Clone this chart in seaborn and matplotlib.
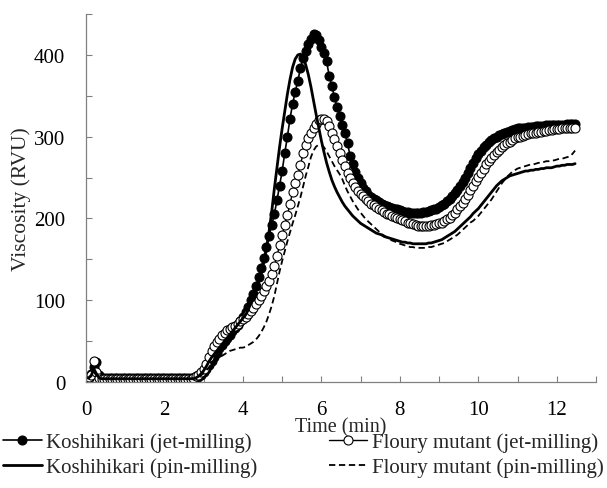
import numpy as np
import pandas as pd
import matplotlib
matplotlib.use('Agg')
import matplotlib.pyplot as plt
from matplotlib.ticker import MultipleLocator
import seaborn as sns

# RVA readings, one every 4 s (0 to 12.47 min)
time_min = np.arange(188) * 4 / 60

koshi_jet = [
    6, 5, 10, 18, 25, 8, 5, 5, 5, 5, 5, 5, 5, 5, 5,
    5, 5, 5, 5, 5, 5, 5, 5, 5, 5, 5, 5, 5, 5, 5,
    5, 5, 5, 5, 5, 5, 5, 5, 5, 5, 5, 5, 5, 6, 8,
    12, 16, 21, 26, 31, 36, 41, 45, 50, 54, 58, 62, 66, 70, 75,
    80, 86, 92, 100, 108, 118, 128, 140, 152, 165, 178, 192, 205, 222, 240,
    258, 280, 300, 322, 340, 355, 368, 384, 396, 405, 413, 420, 425, 424, 418,
    410, 402, 392, 374, 362, 348, 336, 325, 314, 305, 292, 276, 266, 257, 249,
    243, 237, 233, 229, 226, 224, 222, 220, 218, 216, 215, 214, 213, 212, 211,
    210, 209, 208, 208, 207, 207, 207, 207, 207, 208, 208, 209, 210, 211, 212,
    214, 216, 218, 221, 224, 227, 231, 235, 240, 245, 250, 256, 262, 268, 274,
    279, 283, 287, 290, 293, 296, 298, 300, 302, 303, 305, 306, 307, 308, 309,
    310, 310, 311, 311, 312, 312, 312, 313, 313, 313, 313, 314, 314, 314, 314,
    314, 314, 314, 314, 315, 315, 315, 315,
]

floury_jet = [
    5, 6, 9, 26, 12, 5, 4, 4, 4, 4, 4, 4, 4, 4, 4,
    4, 4, 4, 4, 4, 4, 4, 4, 4, 4, 4, 4, 4, 4, 4,
    4, 4, 4, 4, 4, 4, 4, 4, 4, 4, 4, 5, 7, 9, 12,
    16, 22, 30, 38, 44, 49, 53, 57, 60, 63, 65, 67, 69, 71, 74,
    77, 80, 83, 87, 91, 95, 100, 105, 111, 117, 124, 132, 142, 154, 167,
    180, 192, 204, 218, 232, 243, 253, 265, 280, 290, 298, 305, 311, 316, 320,
    322, 322, 319, 313, 305, 297, 289, 280, 272, 264, 256, 249, 243, 238, 234,
    230, 227, 224, 221, 218, 216, 214, 212, 210, 208, 206, 205, 203, 202, 201,
    199, 198, 197, 195, 194, 193, 192, 191, 191, 191, 191, 191, 192, 192, 193,
    194, 195, 197, 199, 201, 204, 207, 211, 215, 219, 224, 229, 235, 240, 246,
    251, 256, 261, 266, 270, 274, 278, 281, 284, 287, 290, 292, 294, 296, 298,
    299, 300, 301, 302, 303, 304, 305, 305, 306, 306, 307, 307, 308, 308, 309,
    309, 309, 310, 310, 310, 311, 311, 311,
]

koshi_pin = [
    5, 5, 8, 16, 10, 5, 4, 4, 4, 4, 4, 4, 4, 4, 4,
    4, 4, 4, 4, 4, 4, 4, 4, 4, 4, 4, 4, 4, 4, 4,
    4, 4, 4, 4, 4, 4, 4, 4, 4, 4, 4, 4, 5, 7, 10,
    14, 19, 25, 30, 34, 38, 42, 46, 50, 54, 58, 62, 66, 70, 74,
    78, 82, 88, 96, 104, 112, 122, 133, 147, 163, 184, 208, 236, 262, 287,
    310, 331, 352, 370, 385, 395, 400, 401, 397, 388, 376, 361, 344, 327, 311,
    295, 281, 268, 257, 247, 239, 232, 226, 220, 215, 211, 207, 203, 200, 197,
    194, 192, 190, 188, 186, 184, 182, 181, 180, 178, 177, 176, 175, 174, 173,
    172, 171, 171, 170, 170, 169, 169, 169, 169, 169, 169, 170, 170, 171, 172,
    173, 174, 176, 178, 180, 182, 184, 187, 190, 193, 196, 199, 202, 206, 209,
    212, 216, 220, 224, 228, 232, 236, 240, 243, 246, 248, 250, 252, 253, 254,
    255, 256, 257, 258, 258, 259, 259, 260, 260, 261, 261, 262, 262, 262, 263,
    264, 264, 265, 265, 266, 266, 266, 267,
]

floury_pin = [
    5, 5, 7, 12, 8, 5, 4, 4, 4, 4, 4, 4, 4, 4, 4,
    4, 4, 4, 4, 4, 4, 4, 4, 4, 4, 4, 4, 4, 4, 4,
    4, 4, 4, 4, 4, 4, 4, 4, 4, 4, 4, 4, 5, 6, 8,
    11, 14, 18, 22, 25, 28, 30, 32, 34, 36, 38, 39, 40, 41, 42,
    42, 43, 45, 47, 49, 52, 56, 61, 67, 74, 83, 93, 105, 120, 135,
    148, 160, 172, 183, 194, 204, 215, 226, 239, 252, 263, 275, 283, 288, 290,
    290, 287, 282, 276, 270, 264, 259, 254, 248, 240, 233, 227, 221, 216, 211,
    207, 203, 199, 196, 193, 190, 187, 184, 181, 179, 177, 175, 173, 172, 170,
    169, 168, 167, 166, 165, 165, 164, 164, 164, 164, 164, 165, 165, 166, 167,
    168, 169, 170, 172, 174, 176, 178, 180, 183, 186, 189, 192, 195, 197, 200,
    203, 207, 211, 215, 219, 223, 228, 233, 238, 243, 247, 251, 254, 257, 259,
    261, 262, 263, 264, 265, 266, 266, 267, 268, 268, 269, 270, 270, 271, 271,
    272, 273, 273, 274, 275, 276, 279, 283,
]

labels = ['Koshihikari (jet-milling)', 'Floury mutant (jet-milling)',
          'Koshihikari (pin-milling)', 'Floury mutant (pin-milling)']

sns.set_theme(style='ticks')
plt.rcParams['font.family'] = ['Liberation Serif', 'DejaVu Serif']

fig = plt.figure(figsize=(6.07, 4.89), dpi=100)
ax = fig.add_axes([86 / 607, 1 - 383 / 489, 510 / 607, 368 / 489])

sns.lineplot(x=time_min, y=koshi_jet, ax=ax, color='black', lw=1.2,
             marker='o', markersize=6.5, markerfacecolor='black',
             markeredgecolor='black', label=labels[0])
sns.lineplot(x=time_min, y=floury_jet, ax=ax, color='black', lw=1.0,
             marker='o', markersize=6.5, markerfacecolor='white',
             markeredgecolor='black', markeredgewidth=0.8, label=labels[1])
sns.lineplot(x=time_min, y=koshi_pin, ax=ax, color='black', lw=2.0,
             label=labels[2])
sns.lineplot(x=time_min, y=floury_pin, ax=ax, color='black', lw=1.3,
             linestyle=(0, (3.5, 2)), label=labels[3])

ax.set_xlim(0, 13)
ax.set_ylim(0, 450)
ax.xaxis.set_major_locator(MultipleLocator(2))
ax.xaxis.set_minor_locator(MultipleLocator(1))
ax.yaxis.set_major_locator(MultipleLocator(100))
ax.yaxis.set_minor_locator(MultipleLocator(50))
ax.tick_params(which='both', direction='in', length=4, width=0.8,
               color='#808080', labelsize=15, labelcolor='black')
ax.tick_params(axis='x', pad=13)
ax.tick_params(axis='y', pad=15)
sns.despine(ax=ax)
for s in ['left', 'bottom']:
    ax.spines[s].set_color('#808080')
    ax.spines[s].set_linewidth(0.9)

ax.set_xlabel('Time (min)', fontsize=14.5, labelpad=-1)
ax.set_ylabel('Viscosity (RVU)', fontsize=15.5, labelpad=2)

h, l = ax.get_legend_handles_labels()
ax.get_legend().remove()
order = [0, 2, 1, 3]
fig.legend([h[i] for i in order], [l[i] for i in order], loc='upper left',
           bbox_to_anchor=(0.005, 0.113), ncol=2, frameon=False, fontsize=15,
           handlelength=1.85, handletextpad=0.2, columnspacing=3.45,
           labelspacing=0.25, borderpad=0, borderaxespad=0)

fig.savefig('out.png', dpi=100)
